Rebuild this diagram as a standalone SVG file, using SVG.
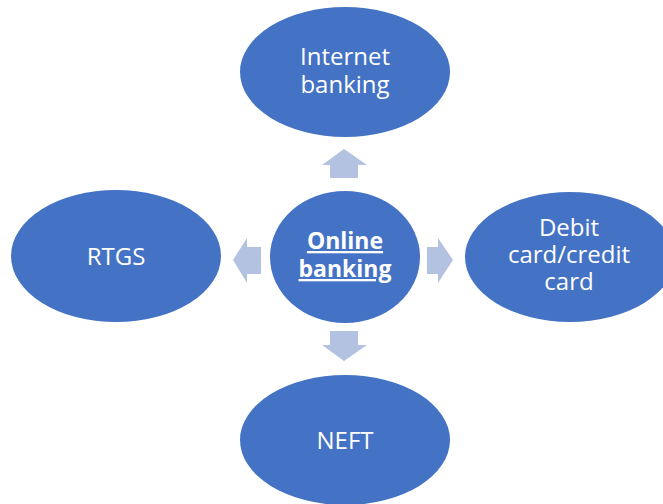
<svg xmlns="http://www.w3.org/2000/svg" width="663" height="504" viewBox="0 0 663 504">
<style>
.node{fill:#4472C4;}
.arrow{fill:#B4C2E1;}
.lbl{font-family:"Open Sans","Noto Sans","DejaVu Sans",sans-serif;font-size:24px;fill:#FFFFFF;text-anchor:middle;}
.center{font-weight:bold;text-decoration:underline;font-size:23px;}
</style>
<rect width="663" height="504" fill="#FFFFFF"/>
<g id="connectors">
<polygon class="arrow" points="330,178 330,165 322,165 344,149 367,165 358,165 358,178"/>
<polygon class="arrow" points="330,331 330,345 322,345 344,361 367,345 358,345 358,331"/>
<polygon class="arrow" points="261,247 247,247 247,238 233,260 247,283 247,274 261,274"/>
<polygon class="arrow" points="427,247 438,247 438,238 453,260 438,283 438,274 427,274"/>
</g>
<g id="node-internet">
<ellipse class="node" cx="345" cy="72" rx="105" ry="65"/>
<text class="lbl" x="345" y="65">Internet</text>
<text class="lbl" x="345" y="93">banking</text>
</g>
<g id="node-online">
<ellipse class="node" cx="345" cy="257" rx="75" ry="66"/>
<text class="lbl center" x="345" y="249">Online</text>
<text class="lbl center" x="345" y="277">banking</text>
</g>
<g id="node-card">
<ellipse class="node" cx="570" cy="257" rx="105" ry="65"/>
<text class="lbl" x="569" y="236">Debit</text>
<text class="lbl" x="569" y="263">card/credit</text>
<text class="lbl" x="569" y="290">card</text>
</g>
<g id="node-rtgs">
<ellipse class="node" cx="116" cy="256" rx="105" ry="66"/>
<text class="lbl" x="116" y="265">RTGS</text>
</g>
<g id="node-neft">
<ellipse class="node" cx="345" cy="440" rx="105" ry="65"/>
<text class="lbl" x="345" y="449">NEFT</text>
</g>
</svg>
